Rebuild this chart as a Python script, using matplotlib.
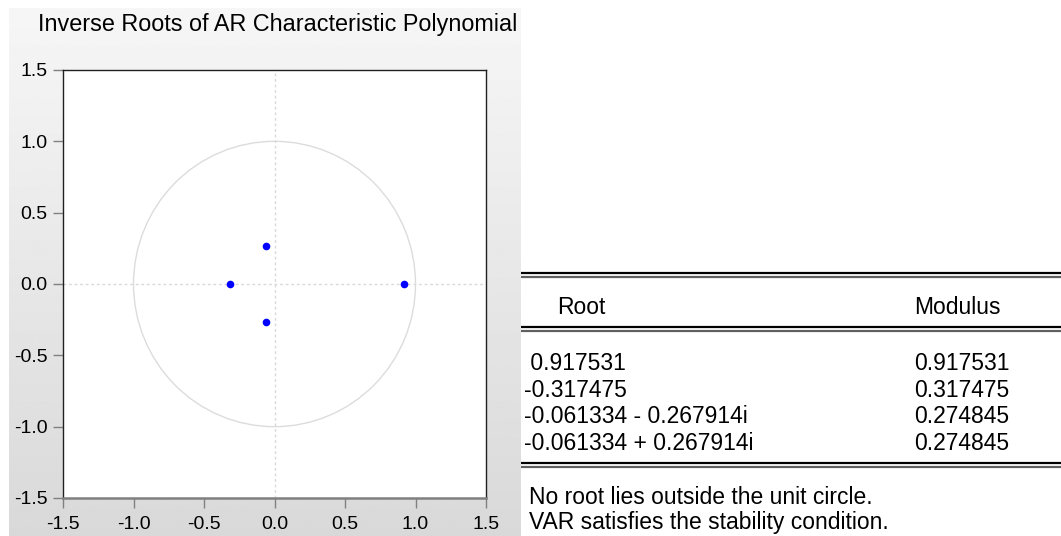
import numpy as np
import matplotlib
matplotlib.use("Agg")
import matplotlib.pyplot as plt
from matplotlib.patches import Circle

plt.rcParams['font.family'] = ['Liberation Sans', 'DejaVu Sans']

# inverse roots of the AR characteristic polynomial
root_re = [0.917531, -0.317475, -0.061334, -0.061334]
root_im = [0.0, 0.0, -0.267914, 0.267914]
modulus = [0.917531, 0.317475, 0.274845, 0.274845]

ticks = [-1.5, -1.0, -0.5, 0.0, 0.5, 1.0, 1.5]
title = "Inverse Roots of AR Characteristic Polynomial"
notes = ["No root lies outside the unit circle.",
         "VAR satisfies the stability condition."]

W, H = 1061, 536
fig = plt.figure(figsize=(W / 100, H / 100), dpi=100)

# gray gradient panel behind the graph
bg = fig.add_axes([9 / W, 0, (521 - 9) / W, (536 - 8) / H], zorder=0)
grad = np.linspace(0.965, 0.85, 256).reshape(-1, 1)
bg.imshow(grad, aspect='auto', cmap='gray', vmin=0, vmax=1,
          extent=[0, 1, 0, 1], interpolation='bilinear')
bg.axis('off')

fig.text(38 / W, 1 - 25 / H, title, fontsize=16.8, ha='left', va='center')

ax = fig.add_axes([63 / W, (536 - 498) / H, 423 / W, 428 / H], zorder=1)
ax.set_facecolor('white')
ax.set_xlim(-1.5, 1.5)
ax.set_ylim(-1.5, 1.5)
ax.set_xticks(ticks)
ax.set_yticks(ticks)
ax.set_xticklabels([f"{t:.1f}" for t in ticks])
ax.set_yticklabels([f"{t:.1f}" for t in ticks])
ax.tick_params(direction='out', length=7, width=1, color='#808080',
               labelsize=14)
ax.tick_params(axis='x', pad=6)
ax.tick_params(axis='y', pad=4)
for side in ['left', 'top', 'right']:
    ax.spines[side].set_color('#202020')
    ax.spines[side].set_linewidth(1)
ax.spines['bottom'].set_color('#808080')
ax.spines['bottom'].set_linewidth(1.8)

ax.axhline(0, color='#d9d9d9', lw=1, ls=(0, (2, 2)), zorder=1)
ax.axvline(0, color='#d9d9d9', lw=1, ls=(0, (2, 2)), zorder=1)
ax.add_patch(Circle((0, 0), 1, fill=False, ec='#dcdcdc', lw=1, zorder=2))
ax.plot(root_re, root_im, 'o', color='#0000ff', ms=5.5, mec='none', zorder=3)

# results table, drawn in pixel coordinates
tab = fig.add_axes([0, 0, 1, 1], zorder=2)
tab.set_xlim(0, W)
tab.set_ylim(H, 0)
tab.axis('off')
tab.patch.set_alpha(0)


def double_rule(y):
    tab.plot([521, W], [y, y], color='black', lw=1.6, solid_capstyle='butt')
    tab.plot([521, W], [y + 4, y + 4], color='#606060', lw=1.6,
             solid_capstyle='butt')


double_rule(273)
double_rule(327)
double_rule(463)

fs = 16.5
tab.text(557, 307, "Root", fontsize=fs, ha='left', va='center')
tab.text(914, 307, "Modulus", fontsize=fs, ha='left', va='center')

for i, (re, im, m) in enumerate(zip(root_re, root_im, modulus)):
    if im == 0:
        label = f"{re: .6f}"
    else:
        sign = '-' if im < 0 else '+'
        label = f"{re:.6f} {sign} {abs(im):.6f}i"
    y = 363.5 + i * 26.7
    tab.text(524, y, label, fontsize=fs, ha='left', va='center')
    tab.text(914, y, f"{m:.6f}", fontsize=fs, ha='left', va='center')

for i, s in enumerate(notes):
    tab.text(529, 498 + i * 25, s, fontsize=fs, ha='left', va='center')

fig.savefig('out.png', dpi=100)
